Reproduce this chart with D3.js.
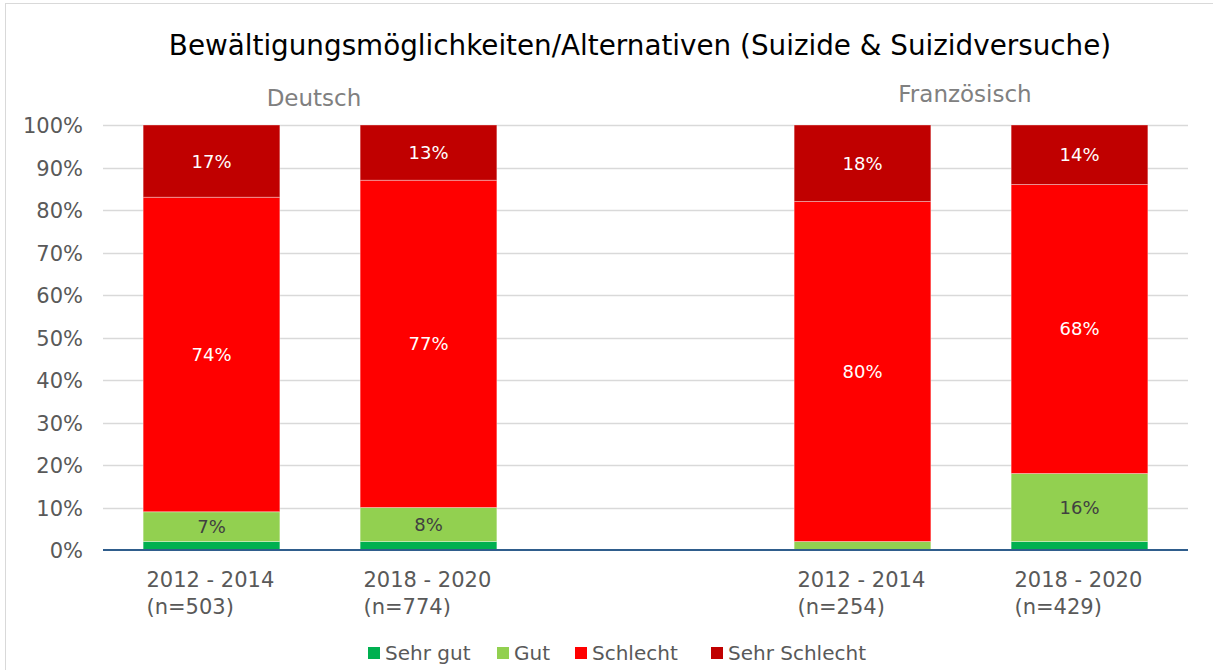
<!DOCTYPE html>
<html>
<head>
<meta charset="utf-8">
<script src="https://cdn.jsdelivr.net/npm/d3@7"></script>
<style>
  body { margin: 0; background: #fff; }
  svg { display: block; font-family: 'DejaVu Sans', 'Liberation Sans', sans-serif; }
</style>
</head>
<body>
<svg id="chart" width="1213" height="670"></svg>
<script>
// chart data
const periods      = ['2012 - 2014', '2018 - 2020', '', '2012 - 2014', '2018 - 2020'];
const sampleSizes  = ['(n=503)', '(n=774)', '', '(n=254)', '(n=429)'];
const languages    = ['Deutsch', 'Französisch'];
const seriesNames  = ['Sehr gut', 'Gut', 'Schlecht', 'Sehr Schlecht'];
const sehrGut      = [2, 2, null, 0, 2];
const gut          = [7, 8, null, 2, 16];
const schlecht     = [74, 77, null, 80, 68];
const sehrSchlecht = [17, 13, null, 18, 14];
const yTicks       = [0, 10, 20, 30, 40, 50, 60, 70, 80, 90, 100];

const colors = ['#00b050', '#92d050', '#ff0000', '#c00000'];
const labelColors = ['#404040', '#404040', '#ffffff', '#ffffff'];

const svg = d3.select('#chart');
const W = 1213, H = 670;
const margin = { top: 125, right: 25, bottom: 120, left: 103 };

// outer frame
svg.append('rect')
    .attr('x', 5.5).attr('y', 3.5)
    .attr('width', W + 10).attr('height', H + 10)
    .attr('fill', 'none')
    .attr('stroke', '#d9d9d9');

const x = d3.scaleBand()
    .domain(d3.range(periods.length))
    .range([margin.left, W - margin.right])
    .paddingInner(0.37)
    .paddingOuter(0.185);

const y = d3.scaleLinear()
    .domain([0, 100])
    .range([H - margin.bottom, margin.top]);

// gridlines
svg.append('g')
  .selectAll('line')
    .data(yTicks.slice(1))
  .enter()
  .append('line')
    .attr('x1', margin.left)
    .attr('x2', W - margin.right)
    .attr('y1', (d) => Math.round(y(d)) + 0.5)
    .attr('y2', (d) => Math.round(y(d)) + 0.5)
    .attr('stroke', '#d9d9d9')
    .attr('stroke-width', 1.5);

// y axis labels
const yAxis = svg.append('g')
    .attr('transform', `translate(${margin.left - 17},0)`)
    .call(d3.axisLeft(y).tickValues(yTicks).tickFormat((d) => d + '%').tickSize(0));
yAxis.select('.domain').remove();
yAxis.attr('font-family', null).attr('font-size', null);
yAxis.selectAll('text')
    .attr('fill', '#595959')
    .style('font-size', '21px')
    .attr('dy', '0.36em');

// stack the series
const table = periods.map((p, i) => ({
  i,
  'Sehr gut': sehrGut[i],
  'Gut': gut[i],
  'Schlecht': schlecht[i],
  'Sehr Schlecht': sehrSchlecht[i]
})).filter((d) => d['Schlecht'] !== null);

const stacked = d3.stack().keys(seriesNames)(table);

const layers = svg.append('g')
  .selectAll('g')
    .data(stacked)
  .enter()
  .append('g')
    .attr('fill', (d, k) => colors[k]);

layers.selectAll('rect')
    .data((d) => d)
  .enter()
  .append('rect')
    .attr('x', (d) => x(d.data.i))
    .attr('width', x.bandwidth())
    .attr('y', (d) => y(d[1]))
    .attr('height', (d) => y(d[0]) - y(d[1]))
    .attr('stroke', 'rgba(255,255,255,0.35)')
    .attr('stroke-width', 1);

// value labels
layers.each(function(layer, k) {
  d3.select(this).selectAll('text')
      .data(layer.filter((d) => d[1] - d[0] >= 5))
    .enter()
    .append('text')
      .attr('x', (d) => x(d.data.i) + x.bandwidth() / 2)
      .attr('y', (d) => (y(d[0]) + y(d[1])) / 2)
      .attr('dy', '0.36em')
      .attr('text-anchor', 'middle')
      .attr('fill', labelColors[k])
      .style('font-size', '18px')
      .text((d) => Math.round(d[1] - d[0]) + '%');
});

// baseline
svg.append('line')
    .attr('x1', margin.left)
    .attr('x2', W - margin.right)
    .attr('y1', y(0))
    .attr('y2', y(0))
    .attr('stroke', '#2f5d8c')
    .attr('stroke-width', 2);

// x labels
const xl = svg.append('g')
  .selectAll('text')
    .data(periods.map((p, i) => i).filter((i) => periods[i]))
  .enter()
  .append('text')
    .attr('x', (i) => x(i) + x.bandwidth() / 2 - 65)
    .attr('fill', '#595959')
    .style('font-size', '21px');
xl.append('tspan')
    .attr('y', 587)
    .text((i) => periods[i]);
xl.append('tspan')
    .attr('x', (i) => x(i) + x.bandwidth() / 2 - 65)
    .attr('y', 614)
    .text((i) => sampleSizes[i]);

// group labels
const groupIdx = [[0, 1], [3, 4]];
const groupY = [106, 102];
svg.append('g')
  .selectAll('text')
    .data(languages)
  .enter()
  .append('text')
    .attr('x', (d, k) => (x(groupIdx[k][0]) + x(groupIdx[k][1]) + x.bandwidth()) / 2 - 6)
    .attr('y', (d, k) => groupY[k])
    .attr('text-anchor', 'middle')
    .attr('fill', '#808080')
    .style('font-size', '23px')
    .text((d) => d);

// title, sized to the reference width
const title = svg.append('text')
    .attr('x', 640)
    .attr('y', 55)
    .attr('text-anchor', 'middle')
    .attr('fill', '#000')
    .style('font-size', '26px')
    .text('Bewältigungsmöglichkeiten/Alternativen (Suizide & Suizidversuche)');
const tw = title.node().getComputedTextLength();
title.style('font-size', (26 * 944 / tw).toFixed(1) + 'px');

// legend
const legendX = [368, 497, 575, 711];
const legend = svg.append('g')
  .selectAll('g')
    .data(seriesNames)
  .enter()
  .append('g')
    .attr('transform', (d, k) => `translate(${legendX[k]},647)`);
legend.append('rect')
    .attr('width', 12).attr('height', 12)
    .attr('fill', (d, k) => colors[k]);
legend.append('text')
    .attr('x', 17)
    .attr('y', 6)
    .attr('dy', '0.36em')
    .attr('fill', '#595959')
    .style('font-size', '20px')
    .text((d) => d);
</script>
</body>
</html>
